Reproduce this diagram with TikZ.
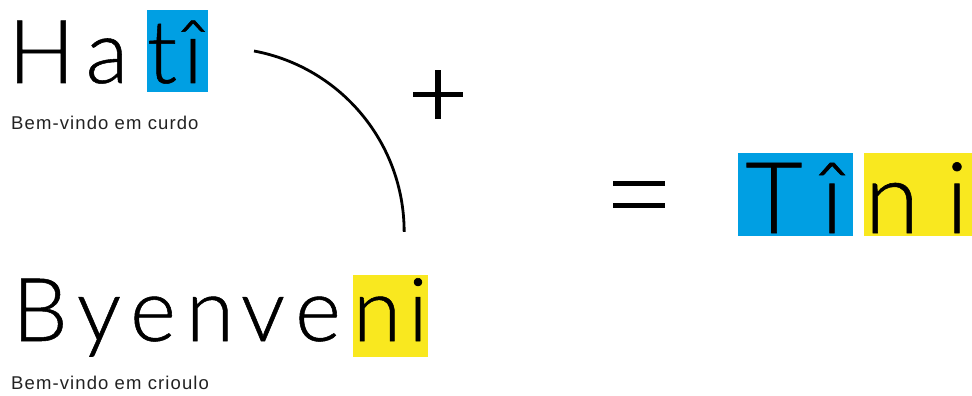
\documentclass[tikz,border=0pt]{standalone}
\usepackage{fontspec}
\IfFontExistsTF{Lato Light}{\newfontfamily\bigfont[FakeBold=0.6]{Lato Light}}{%
  \IfFontExistsTF{Open Sans Light}{\newfontfamily\bigfont{Open Sans Light}}{\newfontfamily\bigfont{Liberation Sans}}}
\newfontfamily\smallfont[LetterSpace=6]{Liberation Sans}
\definecolor{hblue}{RGB}{0,159,227}
\definecolor{hyellow}{RGB}{249,232,31}
\definecolor{subgray}{RGB}{34,34,34}
\begin{document}
\begin{tikzpicture}[x=1pt,y=-1pt,
  ltr/.style={anchor=base,inner sep=0pt,font=\bigfont\fontsize{88}{88}\selectfont},
  ltrbig/.style={anchor=base,inner sep=0pt,font=\bigfont\fontsize{99}{99}\selectfont},
  sub/.style={anchor=base west,inner sep=0pt,text=subgray,font=\smallfont\fontsize{18.5}{18.5}\selectfont},
  sym/.style={line width=5.5pt,line cap=butt}]
\useasboundingbox (0,0) rectangle (972,396);
% highlight boxes
\fill[hblue] (147,10) rectangle (208,92);
\fill[hyellow] (353,275) rectangle (428,357);
\fill[hblue] (738,153) rectangle (853,236);
\fill[hyellow] (864,153) rectangle (972,236);
% Hati
\node[ltr] (h1) at (41.5,83) {H};
\node[ltr] (h2) at (107,83) {a};
\node[ltr] (h3) at (162,83) {t};
\node[ltr] (h4) at (193,83) {î};
\node[sub] (s1) at (11,129) {Bem-vindo em curdo};
% Byenveni
\node[ltr] (b1) at (40,341) {B};
\node[ltr] (b2) at (99,341) {y};
\node[ltr] (b3) at (153,341) {e};
\node[ltr] (b4) at (210,341) {n};
\node[ltr] (b5) at (263,341) {v};
\node[ltr] (b6) at (318,341) {e};
\node[ltr] (b7) at (377,341) {n};
\node[ltr] (b8) at (418,341) {i};
\node[sub] (s2) at (11,389) {Bem-vindo em crioulo};
% Tini
\node[ltrbig] (t1) at (774,233) {T};
\node[ltrbig] (t2) at (832,233) {î};
\node[ltrbig] (t3) at (892,233) {n};
\node[ltrbig] (t4) at (957,233) {i};
% arc
\coordinate (arcstart) at (254,51);
\draw[line width=2.8pt] (arcstart) arc[start angle=-79.4, end angle=0, radius=184] coordinate (arcend);
% plus
\coordinate (plus) at (438,94.5);
\draw[sym] ([xshift=-25pt]plus) -- ([xshift=25pt]plus);
\draw[sym] ([yshift=-24.5pt]plus) -- ([yshift=24.5pt]plus);
% equals
\coordinate (eq) at (639,194);
\draw[line width=5pt] ([xshift=-26pt,yshift=-11pt]eq) -- ([xshift=26pt,yshift=-11pt]eq);
\draw[line width=5pt] ([xshift=-26pt,yshift=11pt]eq) -- ([xshift=26pt,yshift=11pt]eq);
\end{tikzpicture}
\end{document}
